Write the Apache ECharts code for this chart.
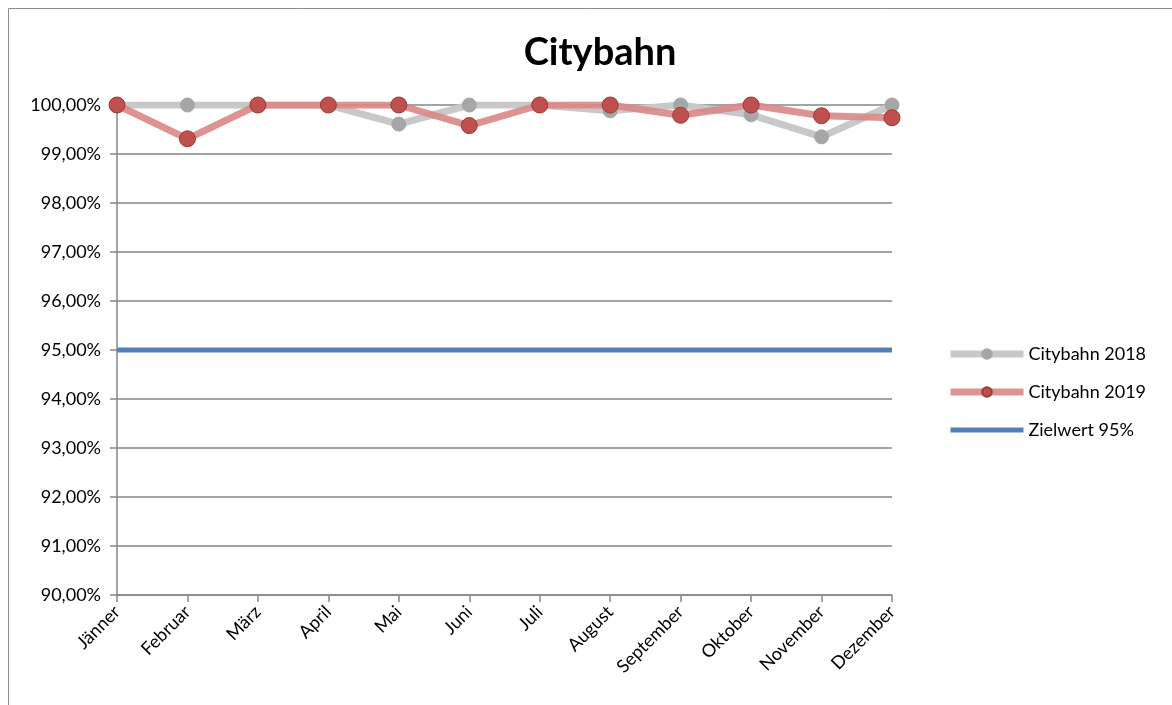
<!DOCTYPE html>
<html><head><meta charset="utf-8">
<script src="https://cdn.jsdelivr.net/npm/echarts@6/dist/echarts.min.js"></script>
<style>html,body{margin:0;padding:0;background:#fff}#c{width:1172px;height:705px}</style>
</head><body><div id="c"></div>
<script>
const months = ['Jänner','Februar','März','April','Mai','Juni','Juli','August','September','Oktober','November','Dezember'];
const city2018 = [100, 100, 100, 100, 99.61, 100, 100, 99.88, 100, 99.80, 99.35, 100];
const city2019 = [100, 99.31, 100, 100, 100, 99.58, 100, 100, 99.79, 100, 99.78, 99.74];
const target = [95, 95, 95, 95, 95, 95, 95, 95, 95, 95, 95, 95];
const seriesNames = ['Citybahn 2018', 'Citybahn 2019', 'Zielwert 95%'];
const FONT = 'Lato, "Open Sans", sans-serif';
const chart = echarts.init(document.getElementById('c'));
chart.setOption({
  animation: false,
  backgroundColor: '#fff',
  graphic: [{type: 'rect', shape: {x: 8.5, y: 8.5, width: 1180, height: 720}, style: {fill: 'none', stroke: '#8c8c8c', lineWidth: 1}, silent: true}],
  title: {text: 'Citybahn', left: 595, top: 29, textAlign: 'center', textStyle: {fontFamily: FONT, fontWeight: 'bold', fontSize: 38, color: '#000'}},
  legend: {
    orient: 'vertical', left: 942, top: 340, itemGap: 20, itemWidth: 73, itemHeight: 12,
    textStyle: {fontFamily: FONT, fontSize: 18, color: '#000'},
    data: [
      {name: seriesNames[0], lineStyle: {width: 7, color: '#c8c8c8'}},
      {name: seriesNames[1], lineStyle: {width: 7, color: '#d98785'}},
      {name: seriesNames[2], lineStyle: {width: 5, color: '#4f81bd'}, itemStyle: {opacity: 0}}
    ]
  },
  grid: {left: 117, right: 280, top: 105, bottom: 110, containLabel: false},
  xAxis: {
    type: 'category', data: months, boundaryGap: false,
    axisLine: {lineStyle: {color: '#868686', width: 1.5}},
    axisTick: {show: true, length: 7, lineStyle: {color: '#868686', width: 1.5}},
    axisLabel: {rotate: 45, fontFamily: FONT, fontSize: 18, color: '#000', margin: 14, interval: 0},
    splitLine: {show: false}
  },
  yAxis: {
    type: 'value', min: 90, max: 100, interval: 1,
    axisLine: {show: true, lineStyle: {color: '#868686', width: 1.5}},
    axisTick: {show: true, length: 7, lineStyle: {color: '#868686', width: 1.5}},
    axisLabel: {fontFamily: FONT, fontSize: 18, color: '#000', margin: 16,
      formatter: v => v.toFixed(2).replace('.', ',') + '%'},
    splitLine: {lineStyle: {color: '#868686', width: 1.5}}
  },
  series: [
    {name: seriesNames[0], type: 'line', data: city2018, symbol: 'circle', symbolSize: 14,
      lineStyle: {color: '#c8c8c8', width: 7}, itemStyle: {color: '#a6a6a6', borderColor: '#a6a6a6', borderWidth: 1}, z: 2},
    {name: seriesNames[1], type: 'line', data: city2019, symbol: 'circle', symbolSize: 16,
      lineStyle: {color: '#d98785', width: 7, opacity: 0.9}, itemStyle: {color: '#c0504d', borderColor: '#9c3a37', borderWidth: 1}, z: 3},
    {name: seriesNames[2], type: 'line', data: target, symbol: 'none', showSymbol: false,
      lineStyle: {color: '#4f81bd', width: 5}, itemStyle: {color: '#4f81bd'}, z: 1}
  ]
});
</script></body></html>
